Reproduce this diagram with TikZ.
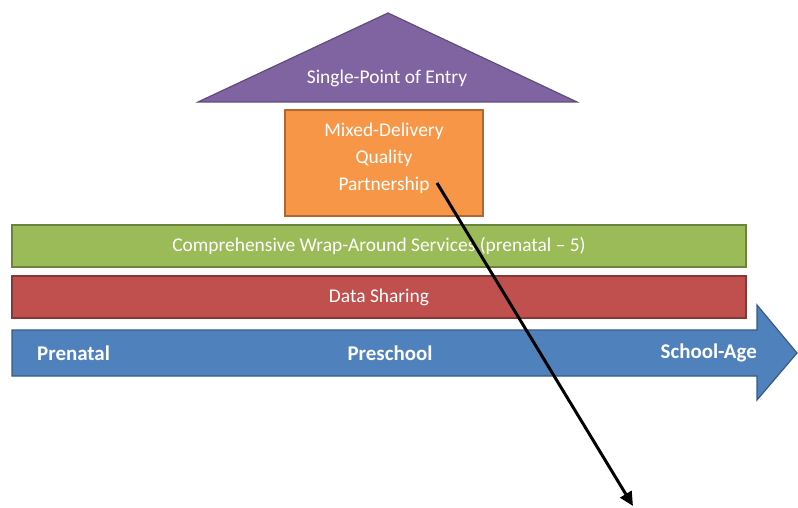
\documentclass[tikz,border=0pt]{standalone}
\usepackage{fontspec}
\setmainfont{Carlito}
\usetikzlibrary{arrows.meta}
\definecolor{cpurple}{HTML}{8064A2}
\definecolor{corange}{HTML}{F79646}
\definecolor{cgreen}{HTML}{9BBB59}
\definecolor{cred}{HTML}{C0504D}
\definecolor{cblue}{HTML}{4F81BD}
\tikzset{
  lbl/.style={text=white, font=\fontsize{19.5}{27}\selectfont, align=center, inner sep=0pt},
  blbl/.style={text=white, font=\fontsize{21}{27}\selectfont\bfseries, inner sep=0pt},
  bar/.style={line width=1.2pt},
}
\begin{document}
\begin{tikzpicture}[x=1bp,y=-1bp]
\useasboundingbox (0,0) rectangle (798,508);
% triangle
\draw[bar, fill=cpurple, draw=cpurple!75!black] (388,13) -- (577,102) -- (198,102) -- cycle;
\node[lbl] (entry) at (387,78) {Single-Point of Entry};
% orange box
\draw[bar, fill=corange, draw=corange!70!black] (285,110) rectangle (483,216);
\node[lbl] (mixed) at (384,158) {Mixed-Delivery\\Quality\\Partnership};
% green bar
\draw[bar, fill=cgreen, draw=cgreen!70!black] (12,225) rectangle (746,267);
\node[lbl] (wrap) at (379,246) {Comprehensive Wrap-Around Services (prenatal -- 5)};
% red bar
\draw[bar, fill=cred, draw=cred!70!black] (12,276) rectangle (746,318);
\node[lbl] (data) at (379,297) {Data Sharing};
% blue arrow
\draw[bar, fill=cblue, draw=cblue!70!black] (12,330) -- (757,330) -- (757,305) -- (797,353) -- (757,400) -- (757,376) -- (12,376) -- cycle;
\node[blbl, anchor=west] (pre) at (37,353) {Prenatal};
\node[blbl] (presch) at (390,353) {Preschool};
\node[blbl, anchor=east] (school) at (757,353) {School-Age};
% black arrow
\coordinate (from) at (437,183);
\coordinate (to) at (633,506);
\draw[line width=3pt, -{Triangle[length=14pt,width=13pt]}] (from) -- (to);
\end{tikzpicture}
\end{document}
